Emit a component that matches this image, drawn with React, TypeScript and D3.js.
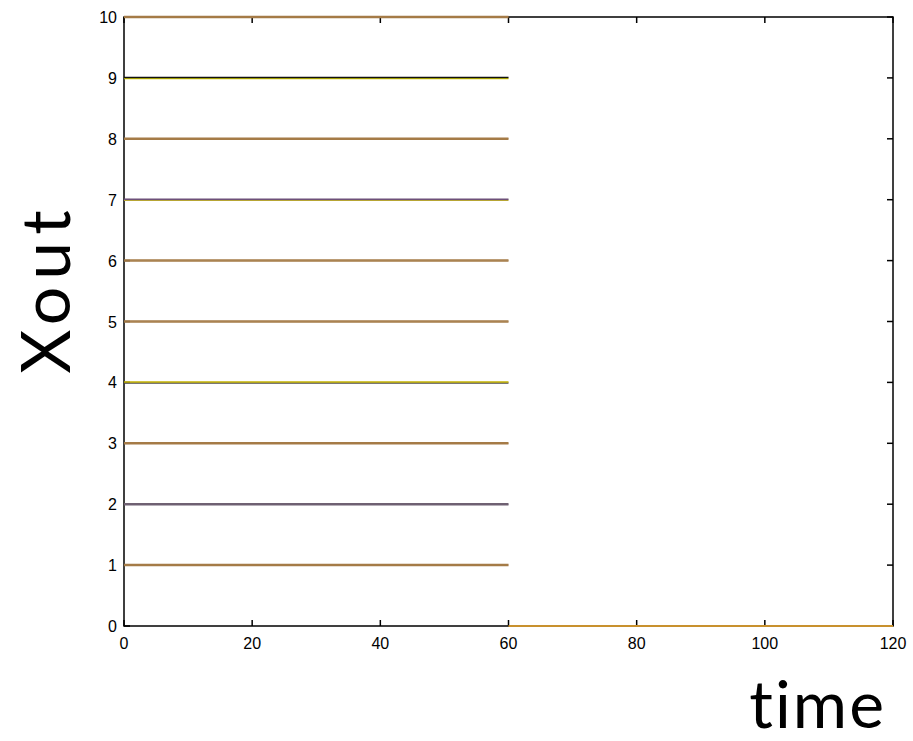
import React from "react";
import * as d3 from "d3";

// Output levels held during the first phase, then dropped to zero
const levels = [1, 2, 3, 4, 5, 6, 7, 8, 9, 10];
const phaseOneTimes = [0, 60];
const phaseTwoTimes = [60, 120];
const phaseTwoValue = 0;

const xTicks = [0, 20, 40, 60, 80, 100, 120];
const yTicks = [0, 1, 2, 3, 4, 5, 6, 7, 8, 9, 10];

// Stroke pairs per level: [lower stroke, upper stroke]
const levelColors: Record<number, [string, string]> = {
  1: ["#a57b47", "#a57b47"],
  2: ["#6f6172", "#6f6172"],
  3: ["#a57b47", "#a57b47"],
  4: ["#4d4a48", "#c4b300"],
  5: ["#a57b47", "#a57b47"],
  6: ["#a57b47", "#a57b47"],
  7: ["#b7a534", "#6d5079"],
  8: ["#a57b47", "#a57b47"],
  9: ["#d2cc00", "#111111"],
  10: ["#a57b47", "#a57b47"],
};
const zeroColor = "#c8912e";

const W = 913;
const H = 741;
const margin = { left: 124, right: 20, top: 17, bottom: 115 };

export default function App() {
  const x = d3.scaleLinear().domain([0, 120]).range([margin.left, W - margin.right]);
  const y = d3.scaleLinear().domain([0, 10]).range([H - margin.bottom, margin.top]);
  const line = d3
    .line<[number, number]>()
    .x((d) => x(d[0]))
    .y((d) => y(d[1]));

  const x0 = x(0), x1 = x(120), y0 = y(0), y1 = y(10);
  const tickLen = 6;
  const titleFont = "Lato, 'Open Sans', sans-serif";

  return (
    <svg
      width={W}
      height={H}
      style={{ position: "absolute", left: 0, top: 0, background: "#fff" }}
    >
      {/* axes box and ticks */}
      <rect x={x0} y={y1} width={x1 - x0} height={y0 - y1} fill="none" stroke="#000" strokeWidth={1.5} />
      {xTicks.map((t) => (
        <g key={"x" + t}>
          <line x1={x(t)} x2={x(t)} y1={y0} y2={y0 - tickLen} stroke="#000" strokeWidth={1.5} />
          <line x1={x(t)} x2={x(t)} y1={y1} y2={y1 + tickLen} stroke="#000" strokeWidth={1.5} />
          <text
            x={x(t)}
            y={y0 + 23}
            textAnchor="middle"
            fontFamily="Liberation Sans, Arial, sans-serif"
            fontSize={16}
            fill="#000"
          >
            {t}
          </text>
        </g>
      ))}
      {yTicks.map((t) => (
        <g key={"y" + t}>
          <line x1={x0} x2={x0 + tickLen} y1={y(t)} y2={y(t)} stroke="#000" strokeWidth={1.5} />
          <line x1={x1} x2={x1 - tickLen} y1={y(t)} y2={y(t)} stroke="#000" strokeWidth={1.5} />
          <text
            x={x0 - 7}
            y={y(t) + 6}
            textAnchor="end"
            fontFamily="Liberation Sans, Arial, sans-serif"
            fontSize={16}
            fill="#000"
          >
            {t}
          </text>
        </g>
      ))}

      {/* phase one: each level held constant */}
      {levels.map((v) => {
        const pts = phaseOneTimes.map((t) => [t, v] as [number, number]);
        const [lo, hi] = levelColors[v];
        return (
          <g key={v}>
            <path d={line(pts) ?? ""} transform="translate(0,0.5)" stroke={lo} strokeWidth={1.5} fill="none" />
            <path d={line(pts) ?? ""} transform="translate(0,-0.5)" stroke={hi} strokeWidth={1.5} fill="none" />
          </g>
        );
      })}
      {/* phase two: all outputs at zero */}
      <path
        d={line(phaseTwoTimes.map((t) => [t, phaseTwoValue] as [number, number])) ?? ""}
        stroke={zeroColor}
        strokeWidth={2}
        fill="none"
      />

      {/* axis titles */}
      <text
        x={886}
        y={728}
        textAnchor="end"
        fontFamily={titleFont}
        fontSize={66}
        letterSpacing={2}
        style={{ fontVariantLigatures: "none" }}
        fill="#000"
      >
        time
      </text>
      <text
        transform={`translate(70,${(195 + 382) / 2}) rotate(-90)`}
        textAnchor="middle"
        fontFamily={titleFont}
        fontSize={68}
        letterSpacing={7}
        style={{ fontVariantLigatures: "none" }}
        fill="#000"
      >
        Xout
      </text>
    </svg>
  );
}
